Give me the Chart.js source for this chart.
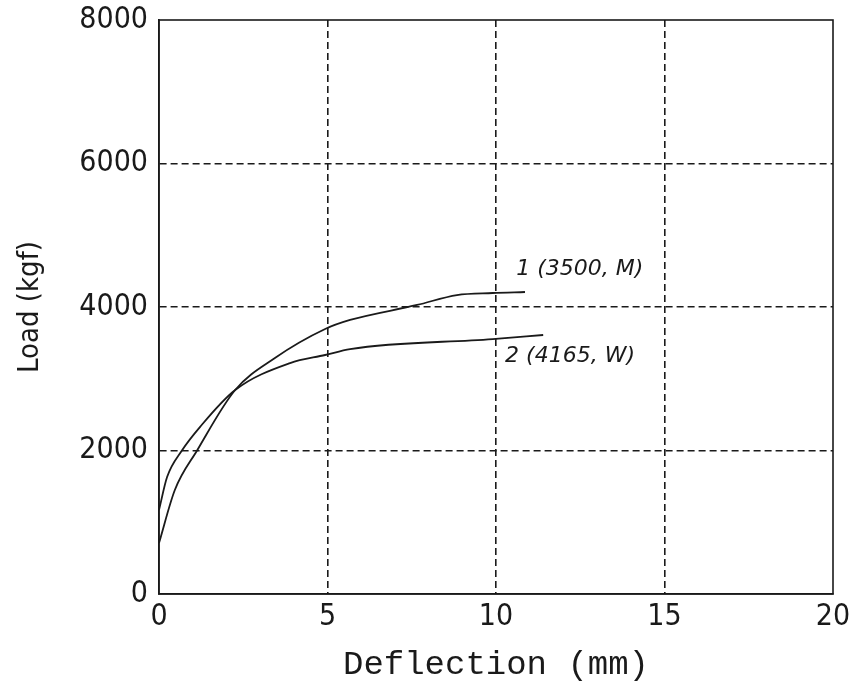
<!DOCTYPE html>
<html>
<head>
<meta charset="utf-8">
<script src="https://cdn.jsdelivr.net/npm/chart.js@4"></script>
<style>
  html, body { margin: 0; padding: 0; background: #fff; }
  #wrap { width: 856px; height: 692px; }
</style>
</head>
<body>
<div id="wrap"><canvas id="chart" width="856" height="692"></canvas></div>
<script>
// curve 1 (3500, M)
const deflection1 = [0, 0.47, 1.13, 2.26, 3.44, 4.93, 5.67, 7.66, 8.84, 9.9, 10.86];
const load1 = [710, 1450, 2000, 2843, 3289, 3693, 3819, 4028, 4167, 4195, 4209];

// curve 2 (4165, W)
const deflection2 = [0, 0.24, 0.68, 1.22, 2.26, 3.89, 4.93, 5.67, 9.9, 11.4];
const load2 = [1170, 1630, 2000, 2330, 2843, 3219, 3331, 3414, 3553, 3610];

const xTicks = [0, 5, 10, 15, 20];
const yTicks = [0, 2000, 4000, 6000, 8000];

const curveLabels = ["1 (3500, M)", "2 (4165, W)"];
const curveLabelX = [10.6, 10.27];
const curveLabelY = [4440, 3230];

const INK = "#1a1a1a";
const tickFont = { family: "'Liberation Sans Narrow', 'DejaVu Sans Condensed', sans-serif", size: 30, lineHeight: 1 };

function toPoints(xs, ys) {
  return xs.map((x, i) => ({ x, y: ys[i] }));
}

function gridColor(edges) {
  return (ctx) => (edges.includes(ctx.tick.value) ? "rgba(0,0,0,0)" : INK);
}

const framePlugin = {
  id: "frame",
  afterDatasetsDraw(chart) {
    const { ctx, chartArea: a } = chart;
    ctx.save();
    ctx.strokeStyle = INK;
    ctx.lineWidth = 1.6;
    ctx.strokeRect(a.left, a.top, a.right - a.left, a.bottom - a.top);
    ctx.restore();
  },
};

const curveLabelPlugin = {
  id: "curveLabels",
  afterDraw(chart) {
    const { ctx, scales } = chart;
    ctx.save();
    ctx.fillStyle = INK;
    ctx.font = "italic 22px 'DejaVu Sans', sans-serif";
    ctx.textBaseline = "alphabetic";
    curveLabels.forEach((text, i) => {
      ctx.fillText(text, scales.x.getPixelForValue(curveLabelX[i]), scales.y.getPixelForValue(curveLabelY[i]));
    });
    ctx.restore();
  },
};

function lineSet(data) {
  return {
    data,
    showLine: true,
    borderColor: INK,
    borderWidth: 1.8,
    pointRadius: 0,
    tension: 0.35,
    cubicInterpolationMode: "monotone",
    fill: false,
  };
}

new Chart(document.getElementById("chart").getContext("2d"), {
  type: "scatter",
  data: {
    datasets: [lineSet(toPoints(deflection1, load1)), lineSet(toPoints(deflection2, load2))],
  },
  plugins: [framePlugin, curveLabelPlugin],
  options: {
    responsive: false,
    animation: false,
    layout: { padding: { top: 20, right: 23, left: 0, bottom: 0 } },
    plugins: { legend: { display: false }, tooltip: { enabled: false } },
    scales: {
      x: {
        type: "linear",
        min: 0,
        max: 20,
        afterBuildTicks: (s) => { s.ticks = xTicks.map((v) => ({ value: v })); },
        afterFit: (s) => { s.height = 98; s.paddingLeft = 0; s.paddingRight = 0; },
        ticks: { color: INK, font: tickFont, padding: 8, maxRotation: 0, callback: (v) => String(v) },
        grid: { color: gridColor([0, 20]), lineWidth: 1.6, drawTicks: false },
        border: { display: true, color: INK, width: 1.6, dash: [7, 4] },
        title: {
          display: true,
          text: "Deflection (mm)",
          color: INK,
          font: { family: "'Liberation Mono', 'DejaVu Sans Mono', monospace", size: 34 },
          padding: { top: 0, bottom: 7 },
        },
      },
      y: {
        type: "linear",
        min: 0,
        max: 8000,
        afterBuildTicks: (s) => { s.ticks = yTicks.map((v) => ({ value: v })); },
        afterFit: (s) => { s.width = 159; s.paddingTop = 0; s.paddingBottom = 0; },
        ticks: { color: INK, font: tickFont, padding: 11, callback: (v) => String(v) },
        grid: { color: gridColor([0, 8000]), lineWidth: 1.6, drawTicks: false },
        border: { display: true, color: INK, width: 1.6, dash: [7, 4] },
        title: {
          display: true,
          text: "Load (kgf)",
          color: INK,
          font: { family: "'Liberation Sans Narrow', 'DejaVu Sans Condensed', sans-serif", size: 29 },
          padding: { top: 13, bottom: 0 },
        },
      },
    },
  },
});
</script>
</body>
</html>
